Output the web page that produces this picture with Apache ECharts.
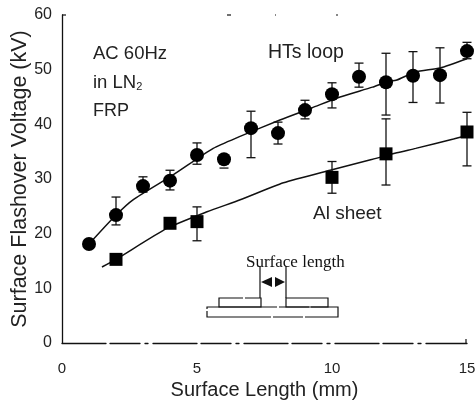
<!DOCTYPE html>
<html><head><meta charset="utf-8">
<style>html,body{margin:0;padding:0;background:#fff}#c{width:475px;height:401px}</style>
<script src="https://cdn.jsdelivr.net/npm/echarts@6/dist/echarts.min.js"></script>
</head><body><div id="c"></div>
<script>
const loopX    = [1,2,3,4,5,6,7,8,9,10,11,12,13,14,15];
const loopV    = [18.1,23.4,28.7,29.7,34.4,33.6,39.3,38.4,42.6,45.5,48.7,47.7,48.9,49,53.4];
const loopHigh = [null,26.7,30.4,31.6,36.6,null,42.4,40.4,44.4,47.6,51.2,53,53.3,54,55];
const loopLow  = [null,21.6,27.6,28,32.7,32,33.9,36.4,41,43,46.8,41.7,44,43.9,52];
const sheetX    = [2,4,5,10,12,15];
const sheetV    = [15.3,21.9,22.2,30.3,34.6,38.6];
const sheetHigh = [null,null,24.9,33.2,41,42.2];
const sheetLow  = [null,null,18.7,27.4,28.9,32.4];
const loopFit  = [[1,18.1],[2,23.4],[2.63,26.2],[4.1,30.7],[5.6,35.6],[6.55,37.7],[8.07,40.8],[9.25,43],[10.3,45],[11.5,46.8],[12,47.7],[12.4,48.1],[13.1,49.6],[14,50.3],[15,52]];
const sheetFit = [[1.48,13.9],[2,15.3],[3.9,21],[5.37,24],[6.6,26.2],[8.2,29.3],[9.93,31.6],[11.5,33.6],[12.4,34.8],[13.1,35.6],[14.5,37.3],[15,38]];
const INK = '#111';

function errorData(xs, hi, lo){
  return xs.map((x,i)=>[x, hi[i], lo[i]]).filter(d=>d[1]!==null || d[2]!==null);
}
function renderError(params, api){
  const x = api.value(0), hi = api.value(1), lo = api.value(2);
  const hasHi = !isNaN(hi), hasLo = !isNaN(lo);
  const mid = api.coord([x, hasHi ? hi : lo]);
  const top = hasHi ? api.coord([x,hi]) : null;
  const bot = hasLo ? api.coord([x,lo]) : null;
  const a = top || mid, b = bot || mid, cap = 4.5;
  const style = {stroke:INK, lineWidth:1.3, fill:null};
  const kids = [{type:'line',shape:{x1:a[0],y1:a[1],x2:b[0],y2:b[1]},style}];
  if(top) kids.push({type:'line',shape:{x1:top[0]-cap,y1:top[1],x2:top[0]+cap,y2:top[1]},style});
  if(bot) kids.push({type:'line',shape:{x1:bot[0]-cap,y1:bot[1],x2:bot[0]+cap,y2:bot[1]},style});
  return {type:'group',children:kids};
}
function textEl(x,y,t,size,extra){
  return {type:'text',x,y,silent:true,z:10,style:Object.assign({text:t,fill:'#222',
    font:size+'px "Liberation Sans"',textVerticalAlign:'middle'},extra||{})};
}
function box(x,y,w,h,dash){
  return {type:'rect',silent:true,shape:{x,y,width:w,height:h},
    style:{fill:'none',stroke:INK,lineWidth:1.2,lineDash:dash||null}};
}
function seg(x1,y1,x2,y2){
  return {type:'line',silent:true,shape:{x1,y1,x2,y2},style:{stroke:INK,lineWidth:1.2}};
}
function tri(a,b,c){
  return {type:'polygon',silent:true,shape:{points:[a,b,c]},style:{fill:INK}};
}
const chart = echarts.init(document.getElementById('c'),null,{renderer:'canvas'});
chart.setOption({
  animation:false,
  backgroundColor:'#fff',
  grid:{left:62,right:8,top:15,bottom:58,outerBoundsMode:'none'},
  xAxis:{type:'value',min:0,max:15,interval:5,
    name:'Surface Length (mm)',nameLocation:'middle',nameGap:36,
    nameTextStyle:{fontFamily:'Liberation Sans',fontSize:20,color:'#222'},
    axisLine:{onZero:false,lineStyle:{color:INK,width:1.3,type:[44,4,30,5,3,5]}},
    axisTick:{show:false},splitLine:{show:false},
    axisLabel:{fontFamily:'Liberation Sans',fontSize:15,color:'#222',margin:18,hideOverlap:false}},
  yAxis:{type:'value',min:0,max:60,interval:10,
    name:'Surface Flashover Voltage (kV)',nameLocation:'middle',nameGap:31,nameMoveOverlap:false,
    nameTextStyle:{fontFamily:'Liberation Sans',fontSize:21.5,color:'#222'},
    axisLine:{lineStyle:{color:INK,width:1.3}},
    axisTick:{show:false},splitLine:{show:false},
    axisLabel:{fontFamily:'Liberation Sans',fontSize:16,color:'#222',margin:10}},
  graphic:[
    textEl(93,54,'AC 60Hz',18.5),
    {type:'text',x:93,y:83,silent:true,z:10,style:{text:'in LN{s|2}',fill:'#222',
      font:'18.5px "Liberation Sans"',textVerticalAlign:'middle',
      rich:{s:{fontSize:11,fontFamily:'Liberation Sans',fill:'#222',padding:[8,0,0,0]}}}},
    textEl(93,111,'FRP',18),
    textEl(268,53,'HTs loop',19.5),
    textEl(313,214,'Al sheet',19),
    textEl(246,263,'Surface length',17,{font:'17px "Liberation Serif"',fill:'#111'}),
    box(207,307,131,10,[70,2,30,2]),
    box(219,298,42,9,[24,2,300]),
    box(286,298,42,9),
    seg(260,266,260,298),
    seg(286,266,286,298),
    tri([261,282],[272,277],[272,287]),
    tri([285,282],[275,277],[275,287]),
    seg(62,15,66,15),
    seg(466,343,466,339),
    seg(227,15,231,15),
    seg(275,15,276,15),
    seg(336,15,338,15)
  ],
  series:[
    {type:'line',data:loopFit,symbol:'none',smooth:0.2,lineStyle:{color:INK,width:1.5},z:2},
    {type:'line',data:sheetFit,symbol:'none',smooth:0.2,lineStyle:{color:INK,width:1.5},z:2},
    {type:'custom',data:errorData(loopX,loopHigh,loopLow),renderItem:renderError,encode:{x:0,y:[1,2]},z:3},
    {type:'custom',data:errorData(sheetX,sheetHigh,sheetLow),renderItem:renderError,encode:{x:0,y:[1,2]},z:3},
    {type:'scatter',data:loopX.map((x,i)=>[x,loopV[i]]),symbol:'circle',symbolSize:14,itemStyle:{color:'#000',opacity:1},z:4},
    {type:'scatter',data:sheetX.map((x,i)=>[x,sheetV[i]]),symbol:'rect',symbolSize:13,itemStyle:{color:'#000',opacity:1},z:4}
  ]
});
</script></body></html>
